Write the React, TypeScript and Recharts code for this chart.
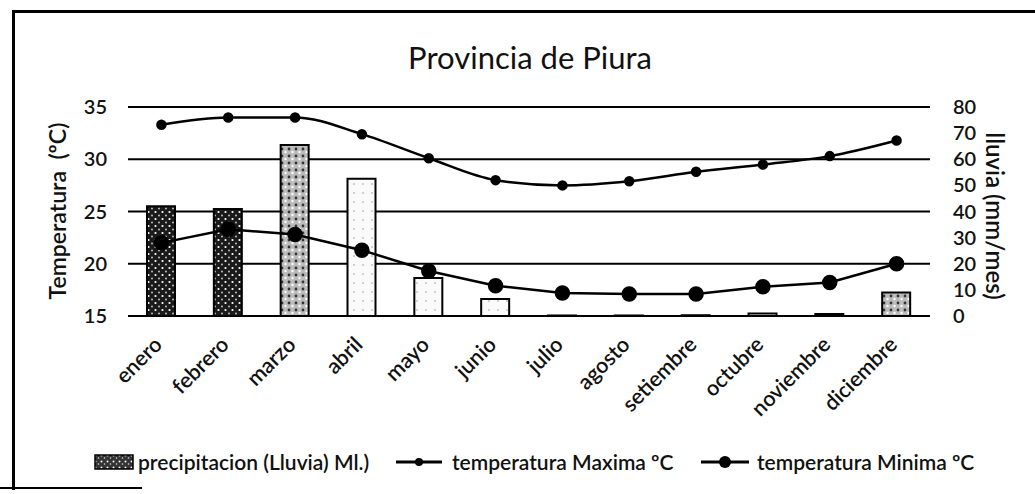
import {
  ComposedChart,
  Bar,
  Line,
  XAxis,
  YAxis,
  CartesianGrid,
  Cell,
} from "recharts";

const months = [
  "enero",
  "febrero",
  "marzo",
  "abril",
  "mayo",
  "junio",
  "julio",
  "agosto",
  "setiembre",
  "octubre",
  "noviembre",
  "diciembre",
];
const lluvia = [42, 41, 65.5, 52.5, 14.5, 6.5, 0.2, 0.2, 0.3, 1, 0.8, 9];
const tempMax = [33.3, 34.0, 34.0, 32.4, 30.1, 28.0, 27.5, 27.9, 28.8, 29.5, 30.3, 31.8];
const tempMin = [22.0, 23.3, 22.8, 21.3, 19.3, 17.9, 17.2, 17.1, 17.1, 17.8, 18.2, 20.0];
const tempTicks = [15, 20, 25, 30, 35];
const rainTicks = [0, 10, 20, 30, 40, 50, 60, 70, 80];

// scanned stipple, darker on the first bars
const shade = ["dark", "dark", "mid", "light", "light", "light", "light", "light", "light", "light", "light", "mid"];

const rows = months.map((m, i) => ({
  mes: m,
  lluvia: lluvia[i],
  max: tempMax[i],
  min: tempMin[i],
}));

const FONT = "Lato, 'Open Sans', sans-serif";

const MonthTick = ({ x, y, payload }: { x: number; y: number; payload: { value: string } }) => (
  <text
    x={x + 2}
    y={y + 22}
    transform={`rotate(-45, ${x + 2}, ${y + 22})`}
    textAnchor="end"
    fontSize={21.5}
    fontWeight={600}
    fontFamily={FONT}
    fill="#111"
  >
    {payload.value}
  </text>
);

const legendText: React.CSSProperties = {
  position: "absolute",
  top: 449,
  fontSize: 21,
  fontWeight: 600,
  color: "#111",
  whiteSpace: "nowrap",
  lineHeight: "26px",
};

function LegendRow() {
  return (
    <>
      <svg width={40} height={16} style={{ position: "absolute", left: 94, top: 454 }}>
        <defs>
          <pattern id="stipDarkLeg" width={6} height={6} patternUnits="userSpaceOnUse">
            <rect width={6} height={6} fill="#333" />
            <circle cx={1.5} cy={1.5} r={1} fill="#fff" />
            <circle cx={4.5} cy={4} r={0.8} fill="#ddd" />
          </pattern>
        </defs>
        <rect x={1} y={1} width={38} height={14} fill="url(#stipDarkLeg)" stroke="#000" strokeWidth={1.5} />
      </svg>
      <span style={{ ...legendText, left: 138 }}>precipitacion (Lluvia) Ml.)</span>
      <svg width={48} height={16} style={{ position: "absolute", left: 395, top: 454 }}>
        <line x1={1} y1={8} x2={47} y2={8} stroke="#000" strokeWidth={3} />
        <circle cx={24} cy={8} r={4} fill="#000" />
      </svg>
      <span style={{ ...legendText, left: 452 }}>temperatura Maxima ºC</span>
      <svg width={50} height={16} style={{ position: "absolute", left: 700, top: 454 }}>
        <line x1={1} y1={8} x2={49} y2={8} stroke="#000" strokeWidth={3} />
        <circle cx={25} cy={8} r={6} fill="#000" />
      </svg>
      <span style={{ ...legendText, left: 757 }}>temperatura Minima ºC</span>
    </>
  );
}

export default function App() {
  return (
    <div style={{ position: "relative", width: 1035, height: 494, background: "#fff", fontFamily: FONT }}>
      <style>{`body{margin:0;}`}</style>
      {/* frame of the scanned chart */}
      <div style={{ position: "absolute", left: 12, top: 10, width: 1023, height: 3, background: "#000" }} />
      <div style={{ position: "absolute", left: 12, top: 10, width: 3, height: 480, background: "#000" }} />
      <div style={{ position: "absolute", left: 0, top: 487, width: 142, height: 2, background: "#000" }} />

      <div
        style={{
          position: "absolute",
          top: 38,
          left: 330,
          width: 400,
          textAlign: "center",
          fontSize: 31,
          color: "#111",
        }}
      >
        Provincia de Piura
      </div>

      <div
        style={{
          position: "absolute",
          left: 57,
          top: 211,
          transform: "translate(-50%, -50%) rotate(-90deg)",
          fontSize: 23,
          fontWeight: 600,
          whiteSpace: "nowrap",
          color: "#111",
        }}
      >
        Temperatura&nbsp;&nbsp;(ºC)
      </div>
      <div
        style={{
          position: "absolute",
          left: 995,
          top: 216,
          transform: "translate(-50%, -50%) rotate(90deg)",
          fontSize: 24,
          fontWeight: 600,
          whiteSpace: "nowrap",
          color: "#111",
        }}
      >
        lluvia (mm/mes)
      </div>

      <div style={{ position: "absolute", left: 0, top: 0 }}>
        <ComposedChart
          width={1035}
          height={494}
          data={rows}
          margin={{ top: 107, right: 0, bottom: 0, left: 0 }}
        >
          <defs>
            <pattern id="stipDark" width={7} height={7} patternUnits="userSpaceOnUse">
              <rect width={7} height={7} fill="#1a1a1a" />
              <circle cx={1.5} cy={2} r={1.1} fill="#fff" />
              <circle cx={5} cy={5.5} r={0.9} fill="#ccc" />
            </pattern>
            <pattern id="stipMid" width={7} height={7} patternUnits="userSpaceOnUse">
              <rect width={7} height={7} fill="#bbb" />
              <circle cx={2} cy={2} r={1.4} fill="#333" />
              <circle cx={5.5} cy={5} r={1.2} fill="#fff" />
            </pattern>
            <pattern id="stipLight" width={9} height={9} patternUnits="userSpaceOnUse">
              <rect width={9} height={9} fill="#fafafa" />
              <circle cx={3} cy={4} r={0.7} fill="#888" />
            </pattern>
          </defs>
          <CartesianGrid
            yAxisId="temp"
            vertical={false}
            stroke="#000"
            strokeWidth={2}
          />
          <XAxis
            dataKey="mes"
            interval={0}
            height={178}
            tickLine={false}
            axisLine={{ stroke: "#000", strokeWidth: 2 }}
            tick={MonthTick}
          />
          <YAxis
            yAxisId="temp"
            orientation="left"
            width={128}
            domain={[15, 35]}
            ticks={tempTicks}
            interval={0}
            axisLine={false}
            tickLine={false}
            tickSize={0}
            tickMargin={21}
            tick={{ fontSize: 20, fontWeight: 600, fill: "#111", fontFamily: FONT }}
          />
          <YAxis
            yAxisId="rain"
            orientation="right"
            width={105}
            domain={[0, 80]}
            ticks={rainTicks}
            interval={0}
            axisLine={false}
            tickLine={false}
            tickSize={0}
            tickMargin={23}
            tick={{ fontSize: 20, fontWeight: 600, fill: "#111", fontFamily: FONT }}
          />
          <Bar
            yAxisId="rain"
            dataKey="lluvia"
            barSize={28}
            stroke="#000"
            strokeWidth={2}
            isAnimationActive={false}
          >
            {rows.map((r, i) => (
              <Cell
                key={r.mes}
                fill={
                  shade[i] === "dark"
                    ? "url(#stipDark)"
                    : shade[i] === "mid"
                    ? "url(#stipMid)"
                    : "url(#stipLight)"
                }
              />
            ))}
          </Bar>
          <Line
            yAxisId="temp"
            type="monotone"
            dataKey="max"
            stroke="#000"
            strokeWidth={2.5}
            dot={{ r: 4, fill: "#000", stroke: "#000" }}
            isAnimationActive={false}
          />
          <Line
            yAxisId="temp"
            type="linear"
            dataKey="min"
            stroke="#000"
            strokeWidth={2.5}
            dot={{ r: 6.5, fill: "#000", stroke: "#000" }}
            isAnimationActive={false}
          />
        </ComposedChart>
      </div>
      <LegendRow />
    </div>
  );
}
